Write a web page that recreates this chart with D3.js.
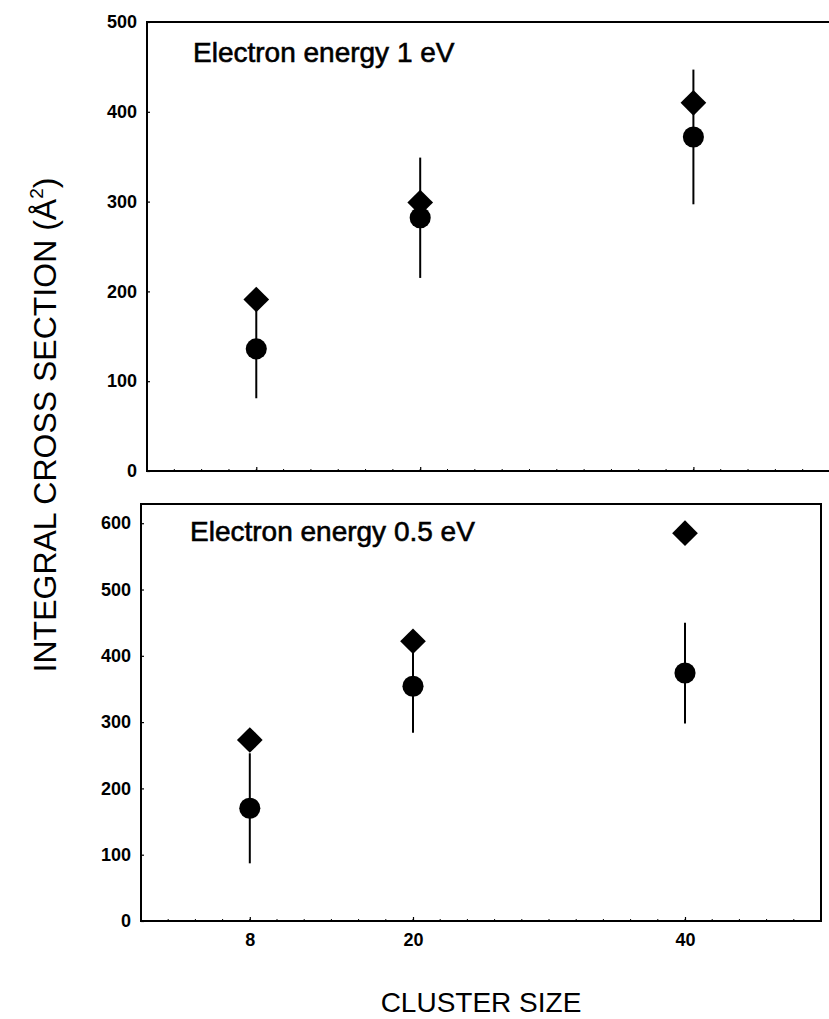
<!DOCTYPE html>
<html>
<head>
<meta charset="utf-8">
<script src="https://cdn.jsdelivr.net/npm/d3@7"></script>
<style>
  html, body { margin: 0; padding: 0; background: #fff; }
  svg { display: block; }
</style>
</head>
<body>
<script>
// cluster sizes on the x axis
var clusterSizes = [8, 20, 40];
var xTickLabels = ["8", "20", "40"];
var xMinorTicks = d3.range(0, 51, 2);

// top panel: 1 eV
var label1eV = "Electron energy 1 eV";
var diamonds1eV = [191, 299, 410];
var circles1eV = [136, 282, 372];
var errors1eV = [55, 67, 75];
var yTicks1eV = [0, 100, 200, 300, 400, 500];

// bottom panel: 0.5 eV
var labelHalfeV = "Electron energy 0.5 eV";
var diamondsHalfeV = [273, 422, 585];
var circlesHalfeV = [170, 354, 374];
var errorsHalfeV = [83, 70, 76];
var yTicksHalfeV = [0, 100, 200, 300, 400, 500, 600];

var yTitle = "INTEGRAL CROSS SECTION (Å";
var xTitle = "CLUSTER SIZE";

var W = 829, H = 1019;
var font = "'Liberation Sans', Arial, Helvetica, sans-serif";

var svg = d3.select("body").append("svg")
  .attr("width", W)
  .attr("height", H);

function drawPanel(cfg) {
  var x = d3.scaleLinear().domain([0, 50]).range([cfg.left, cfg.right]);
  var y = d3.scaleLinear().domain([0, cfg.yMax]).range([cfg.bottom, cfg.top]);
  var g = svg.append("g");

  // y axis: labels left, tiny ticks pointing inward
  var yAxis = g.append("g")
    .attr("transform", "translate(" + cfg.left + ",0)")
    .call(d3.axisLeft(y).tickValues(cfg.yTicks).tickSize(-3).tickPadding(10));
  yAxis.select(".domain").remove();
  yAxis.selectAll("text")
    .attr("font-family", font)
    .attr("font-size", 18)
    .attr("font-weight", "bold")
    .attr("fill", "#000");
  yAxis.selectAll("line").attr("stroke", "#000").attr("stroke-width", 1.2);

  // x axis minor ticks (inward)
  g.append("g").selectAll("line")
    .data(xMinorTicks)
    .join("line")
    .attr("x1", (d) => x(d))
    .attr("x2", (d) => x(d))
    .attr("y1", cfg.bottom)
    .attr("y2", cfg.bottom - 2)
    .attr("stroke", "#000")
    .attr("stroke-width", 1);

  var xAxis = g.append("g")
    .attr("transform", "translate(0," + cfg.bottom + ")")
    .call(d3.axisBottom(x).tickValues(clusterSizes).tickSize(-4).tickPadding(12)
      .tickFormat((d, i) => xTickLabels[i]));
  xAxis.select(".domain").remove();
  xAxis.selectAll("line").attr("stroke", "#000").attr("stroke-width", 1.2);
  xAxis.selectAll("text")
    .attr("font-family", font)
    .attr("font-size", 18)
    .attr("font-weight", "bold")
    .attr("fill", "#000")
    .style("display", cfg.showX ? null : "none");

  // frame
  g.append("rect")
    .attr("x", cfg.left)
    .attr("y", cfg.top)
    .attr("width", cfg.right - cfg.left)
    .attr("height", cfg.bottom - cfg.top)
    .attr("fill", "none")
    .attr("stroke", "#000")
    .attr("stroke-width", 2);

  g.append("text")
    .attr("x", cfg.labelX)
    .attr("y", cfg.labelY)
    .attr("font-family", font)
    .attr("font-size", 28)
    .attr("fill", "#000")
    .attr("stroke", "#000")
    .attr("stroke-width", 0.6)
    .text(cfg.label);

  // error bars (on the circles)
  g.append("g").selectAll("line")
    .data(cfg.circles)
    .join("line")
    .attr("x1", (d, i) => x(clusterSizes[i]))
    .attr("x2", (d, i) => x(clusterSizes[i]))
    .attr("y1", (d, i) => y(d - cfg.errors[i]))
    .attr("y2", (d, i) => y(d + cfg.errors[i]))
    .attr("stroke", "#000")
    .attr("stroke-width", 2);

  var circleSym = d3.symbol(d3.symbolCircle, 350);
  g.append("g").selectAll("path")
    .data(cfg.circles)
    .join("path")
    .attr("d", circleSym)
    .attr("transform", (d, i) => "translate(" + x(clusterSizes[i]) + "," + y(d) + ")")
    .attr("fill", "#000");

  var diamondSym = d3.symbol(d3.symbolSquare, 330);
  g.append("g").selectAll("path")
    .data(cfg.diamonds)
    .join("path")
    .attr("d", diamondSym)
    .attr("transform", (d, i) => "translate(" + x(clusterSizes[i]) + "," + y(d) + ") rotate(45)")
    .attr("fill", "#000");
} // drawPanel

drawPanel({
  left: 147, right: 830, top: 22, bottom: 471, yMax: 500,
  yTicks: yTicks1eV, label: label1eV, labelX: 193, labelY: 62,
  diamonds: diamonds1eV, circles: circles1eV, errors: errors1eV, showX: false,
});

drawPanel({
  left: 141, right: 821, top: 504, bottom: 921, yMax: 629,
  yTicks: yTicksHalfeV, label: labelHalfeV, labelX: 190, labelY: 541,
  diamonds: diamondsHalfeV, circles: circlesHalfeV, errors: errorsHalfeV, showX: true,
});

// axis titles
var yt = svg.append("text")
  .attr("transform", "translate(56,425) rotate(-90)")
  .attr("text-anchor", "middle")
  .attr("font-family", font)
  .attr("font-size", 32)
  .attr("fill", "#000");
yt.append("tspan").text(yTitle);
yt.append("tspan").attr("font-size", 19).attr("dy", -13).text("2");
yt.append("tspan").attr("dy", 13).text(")");

svg.append("text")
  .attr("x", 481)
  .attr("y", 1012)
  .attr("text-anchor", "middle")
  .attr("font-family", font)
  .attr("font-size", 28)
  .attr("fill", "#000")
  .text(xTitle);
</script>
</body>
</html>
